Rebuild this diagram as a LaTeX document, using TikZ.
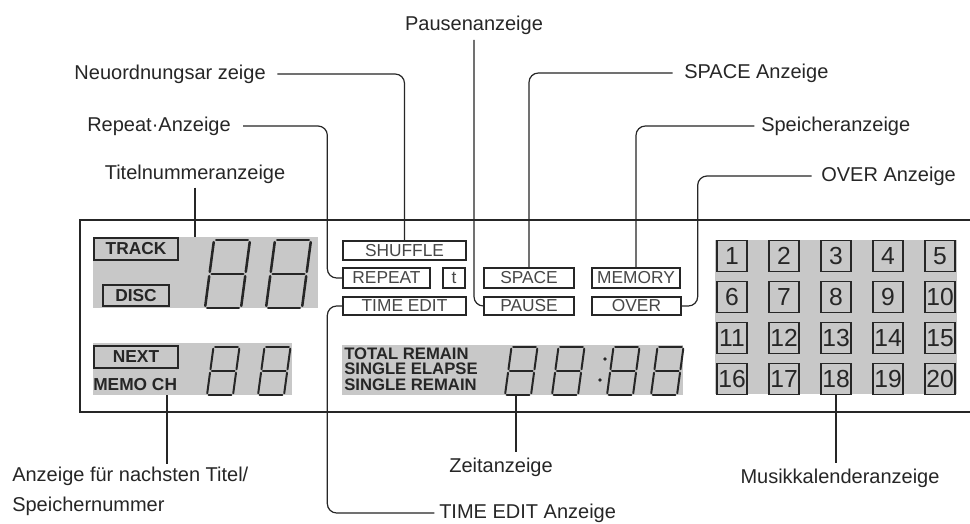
\documentclass[tikz,border=0pt]{standalone}
\usepackage{fontspec}
\setmainfont{Liberation Sans}
\definecolor{lcdgray}{HTML}{C8C8C8}
\definecolor{ink}{HTML}{262626}
\begin{document}
\begin{tikzpicture}[x=0.75pt,y=-0.75pt,
  panel/.style={draw=ink, line width=0.9pt},
  conn/.style={draw=ink, line width=0.9pt, rounded corners=7pt},
  lbl/.style={font=\fontsize{15}{17}\selectfont, text=ink, inner sep=0pt},
  ind/.style={draw=ink, line width=1pt, font=\fontsize{13}{15}\selectfont, text=ink!85, inner sep=0pt},
  bind/.style={draw=ink, line width=1.1pt, font=\bfseries\fontsize{13}{15}\selectfont, text=ink, inner sep=0pt},
  lcd/.style={fill=lcdgray, draw=none, inner sep=0pt},
  cal/.style={draw=ink, line width=1.3pt, fill=lcdgray, minimum width=22.5pt, minimum height=23.25pt, inner sep=0pt, font=\fontsize{18.5}{18.5}\selectfont, text=ink},
  seg/.style={draw=ink, line width=1.9pt, line cap=round, shorten <=1.6pt, shorten >=1.6pt},
  sseg/.style={draw=ink, line width=1.5pt, line cap=round, shorten <=1.3pt, shorten >=1.3pt},
  pics/sevenseg/.style={code={
    \draw[#1] (0.25,0) -- (1.25,0);
    \draw[#1] (0.125,1) -- (1.125,1);
    \draw[#1] (0,2) -- (1,2);
    \draw[#1] (0.25,0) -- (0.125,1);
    \draw[#1] (0.125,1) -- (0,2);
    \draw[#1] (1.25,0) -- (1.125,1);
    \draw[#1] (1.125,1) -- (1,2);
  }},
]
\useasboundingbox (0,0) rectangle (970,524);
\fill[white] (0,0) rectangle (970,524);

% panel outline (open on the right)
\draw[panel] (970,220) -- (80,220) -- (80,412) -- (970,412);

% LCD grey areas
\node[lcd, minimum width=168.75pt, minimum height=53.25pt] (g1) at (205.5,272.5) {};
\node[lcd, minimum width=149.25pt, minimum height=39pt] (g2) at (192.5,369) {};
\node[lcd, minimum width=255.75pt, minimum height=37.5pt] (g3) at (512.5,370) {};
\node[lcd, minimum width=181.5pt, minimum height=115.5pt] (g4) at (836,317) {};

% left block
\node[bind, minimum width=63pt, minimum height=16.5pt] (track) at (136,249) {TRACK};
\node[bind, minimum width=49.5pt, minimum height=15.75pt] (disc) at (136,295.5) {DISC};
\node[bind, minimum width=63pt, minimum height=16.5pt] (next) at (136,357) {NEXT};
\node[anchor=west, inner sep=0pt, font=\bfseries\fontsize{13}{15}\selectfont, text=ink] (memo) at (93,385) {MEMO CH};

\pic[xscale=36,yscale=34] at (205,240) {sevenseg=seg};
\pic[xscale=36,yscale=34] at (266,240) {sevenseg=seg};
\pic[xscale=26,yscale=24] at (207,347) {sevenseg=sseg};
\pic[xscale=26,yscale=24] at (258,347) {sevenseg=sseg};

% centre indicator boxes
\node[ind, minimum width=92.25pt, minimum height=14.25pt] (shuffle) at (404.5,250.5) {SHUFFLE};
\node[ind, minimum width=65.25pt, minimum height=15pt] (repeat) at (386.5,278) {REPEAT};
\node[ind, minimum width=16.5pt, minimum height=15pt] (tbox) at (454,278) {t};
\node[ind, minimum width=92.25pt, minimum height=13.5pt] (timeedit) at (404.5,306) {TIME EDIT};
\node[ind, minimum width=67.5pt, minimum height=15pt] (space) at (529,278) {SPACE};
\node[ind, minimum width=67.5pt, minimum height=13.5pt] (pause) at (529,306) {PAUSE};
\node[ind, minimum width=66pt, minimum height=15pt] (memory) at (636,278) {MEMORY};
\node[ind, minimum width=66.75pt, minimum height=13.5pt] (over) at (636.5,306) {OVER};

% time display
\node[anchor=west, align=left, inner sep=0pt, font=\bfseries\fontsize{12.5}{11.6}\selectfont, text=ink] (modes) at (344,369) {TOTAL REMAIN\\SINGLE ELAPSE\\SINGLE REMAIN};
\pic[xscale=26,yscale=24] at (505,347) {sevenseg=sseg};
\pic[xscale=26,yscale=24] at (552,347) {sevenseg=sseg};
\pic[xscale=26,yscale=24] at (607,347) {sevenseg=sseg};
\pic[xscale=26,yscale=24] at (651,347) {sevenseg=sseg};
\fill[ink] (605,359) circle (1.8);
\fill[ink] (600,380) circle (1.8);

% music calendar
\foreach \r in {0,...,3}{
  \foreach \c in {0,...,4}{
    \pgfmathtruncatemacro\n{\r*5+\c+1}
    \node[cal] (c\n) at (732+52*\c,256+41*\r) {\n};
  }
}

% labels
\node[lbl] (pause-l) at (474,25) {Pausenanzeige};
\node[lbl, anchor=east] (neu-l) at (266,74) {Neuordnungsar zeige};
\node[lbl, anchor=east] (rep-l) at (231,126) {Repeat·Anzeige};
\node[lbl] (tit-l) at (195,174) {Titelnummeranzeige};
\node[lbl, anchor=west] (space-l) at (684,73) {SPACE Anzeige};
\node[lbl, anchor=west] (spei-l) at (761,126) {Speicheranzeige};
\node[lbl, anchor=west] (over-l) at (821,176) {OVER Anzeige};
\node[lbl, anchor=north west, align=left, font=\fontsize{15}{22.5}\selectfont] (anz-l) at (12,467) {Anzeige für nachsten Titel/\\Speichernummer};
\node[lbl] (zeit-l) at (501,467) {Zeitanzeige};
\node[lbl, anchor=west] (te-l) at (439,513) {TIME EDIT Anzeige};
\node[lbl] (mus-l) at (840,478) {Musikkalenderanzeige};

% helper coordinates
\coordinate (rv) at ([xshift=-11.25pt]repeat.west);
\coordinate (tv) at ([xshift=-11.25pt]timeedit.west);
\coordinate (ov) at ([xshift=12pt]over.east);
\coordinate (c-anz) at (167,395);
\coordinate (c-zeit) at (516,395);

% connectors
\draw[conn, shorten <=4pt] (pause-l.south) |- (pause.west);
\draw[conn, shorten <=8.5pt] (neu-l.east) -| (shuffle.north);
\draw[conn, shorten <=9pt] (rep-l.east) -| (rv) -- (repeat.west);
\draw[conn, shorten <=3pt] (tit-l.south) -- (tit-l.south |- g1.north);
\draw[conn, shorten <=8.5pt] (space-l.west) -| (space.north);
\draw[conn, shorten <=5pt] (spei-l.west) -| (memory.north);
\draw[conn, shorten <=7pt] (over-l.west) -| (ov) -- (over.east);
\draw[conn, shorten >=2pt] (c-anz) -- (c-anz |- anz-l.north);
\draw[conn, shorten >=4pt] (c-zeit) -- (c-zeit |- zeit-l.north);
\draw[conn, shorten >=4pt] (c18.south) -- (c18.south |- mus-l.north);
\draw[conn, shorten >=3.5pt] (timeedit.west) -- (tv) |- (te-l.west);
\end{tikzpicture}
\end{document}
